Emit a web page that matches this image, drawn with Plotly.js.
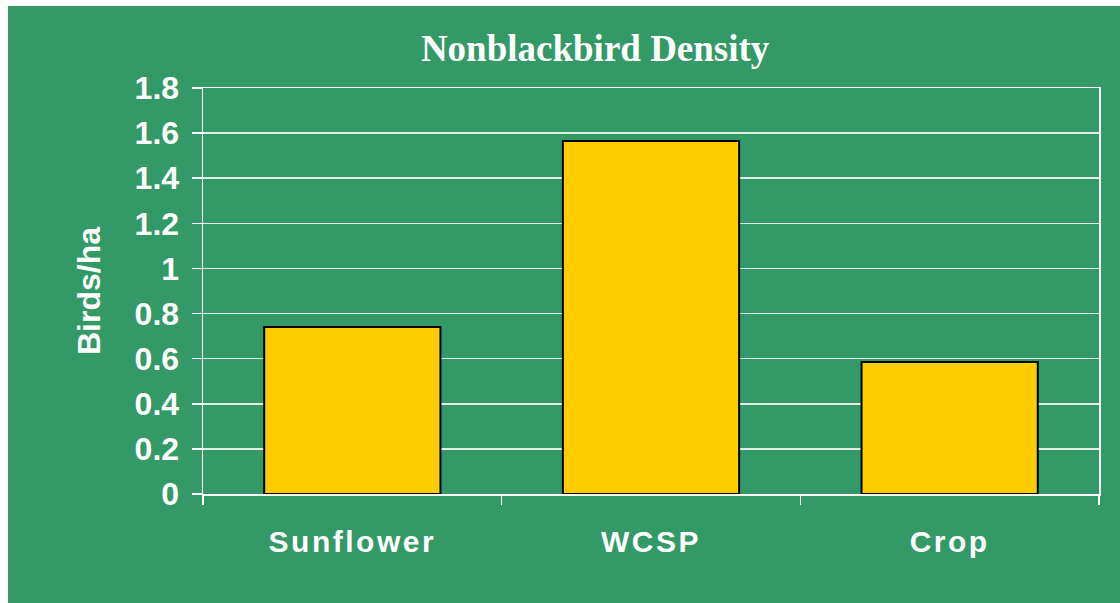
<!DOCTYPE html>
<html>
<head>
<meta charset="utf-8">
<script src="https://cdn.plot.ly/plotly-3.0.1.min.js"></script>
<style>
  html, body { margin: 0; padding: 0; background: #ffffff; width: 1120px; height: 603px; overflow: hidden; }
  #chart { position: absolute; left: 8px; top: 6px; width: 1112px; height: 597px; }
  #chart .xtick text { letter-spacing: 2.5px; }
</style>
</head>
<body>
<div id="chart"></div>
<script>
const categories = ["Sunflower", "WCSP", "Crop"];
const density = [0.74, 1.565, 0.585];
const chartTitle = "Nonblackbird Density";
const yTitle = "Birds/ha";

const white = "#ffffff";
const green = "#339966";

const trace = {
  type: "bar",
  x: categories,
  y: density,
  marker: { color: "#FFCC00", line: { color: "#000000", width: 2 } },
  hoverinfo: "x+y"
};

const layout = {
  width: 1112,
  height: 597,
  paper_bgcolor: green,
  plot_bgcolor: green,
  margin: { l: 195, r: 21, t: 82, b: 109 },
  bargap: 0.41,
  showlegend: false,
  title: {
    text: "<b>" + chartTitle + "</b>",
    font: { family: "Liberation Serif, Times New Roman, serif", size: 37, color: white },
    x: 0.528, xref: "container", xanchor: "center",
    y: 0.93, yref: "container", yanchor: "middle"
  },
  xaxis: {
    type: "category",
    showgrid: false,
    showline: true, linecolor: white, linewidth: 1.5, mirror: true,
    ticks: "outside", tickson: "boundaries", ticklen: 9, tickcolor: white, tickwidth: 1.5,
    tickfont: { family: "Liberation Sans, Arial, sans-serif", size: 30, color: white, weight: "bold" },
    ticklabelstandoff: 20,
    fixedrange: true
  },
  yaxis: {
    range: [0, 1.8],
    dtick: 0.2,
    tick0: 0,
    showgrid: true, gridcolor: "rgba(255,255,255,0.85)", gridwidth: 1.5,
    zeroline: false,
    showline: true, linecolor: white, linewidth: 1.5, mirror: true,
    ticks: "outside", ticklen: 10, tickcolor: white, tickwidth: 1.5,
    tickfont: { family: "Liberation Sans, Arial, sans-serif", size: 32, color: white, weight: "bold" },
    ticklabelstandoff: 6,
    title: {
      text: "<b>" + yTitle + "</b>",
      font: { family: "Liberation Sans, Arial, sans-serif", size: 32, color: white },
      standoff: 24
    },
    automargin: false,
    fixedrange: true
  }
};

Plotly.newPlot("chart", [trace], layout, { displayModeBar: false, staticPlot: true });
</script>
</body>
</html>
